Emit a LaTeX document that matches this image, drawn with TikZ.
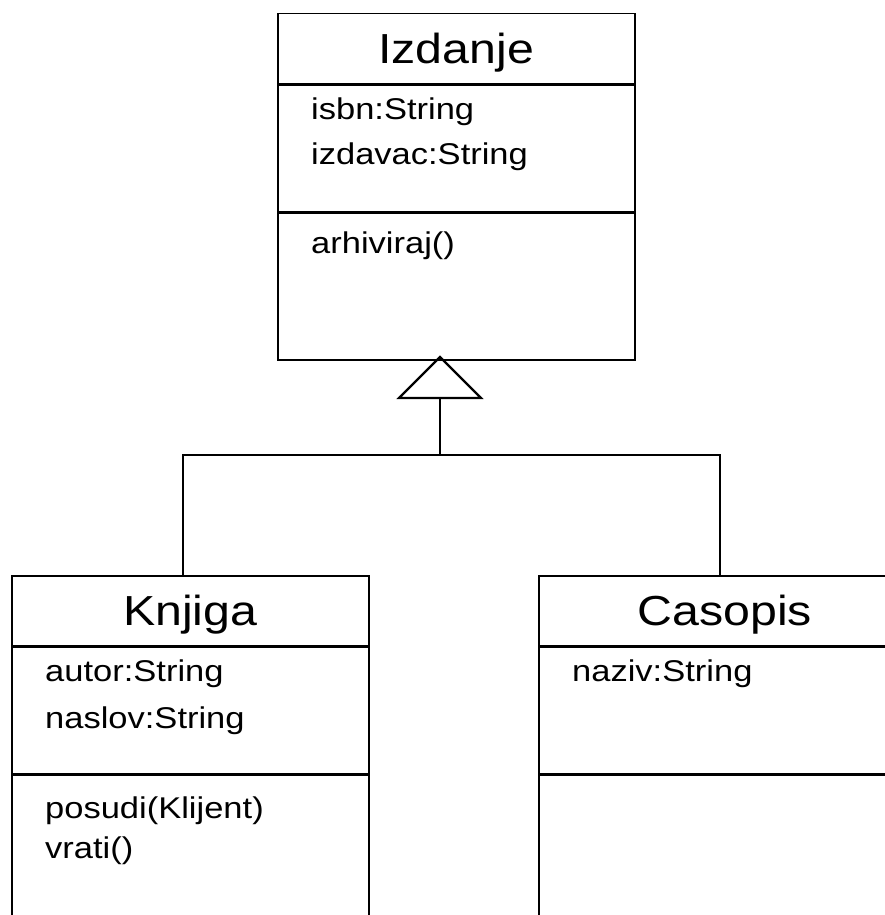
\documentclass[tikz,border=0pt]{standalone}
\usepackage{fontspec}
\setmainfont{Liberation Sans}[FakeStretch=1.15]
\usetikzlibrary{calc}

\begin{document}
\begin{tikzpicture}[x = 1pt, y = -1pt]
\tikzstyle{partStyle}=[draw, line width = 1.5pt, inner sep = 0pt, anchor = north west]
\tikzstyle{titleStyle}=[partStyle, minimum height = 70, text height = 30pt, text depth = 0pt, font = \fontsize{42}{46}\selectfont]
\tikzstyle{attrStyle}=[partStyle, minimum height = 126]
\tikzstyle{methStyle}=[partStyle, minimum height = 147]
\tikzstyle{memberStyle}=[inner sep = 0pt, anchor = base west, font = \fontsize{30}{36}\selectfont]
\tikzstyle{lineStyle}=[line width = 1.5pt]
\useasboundingbox (0,0) rectangle (885,915);
\clip (0,0) rectangle (885,915);
\node[titleStyle, minimum width = 357] (izdTitle) at (277,13) {Izdanje};
\node[attrStyle, minimum width = 357] (izdAttr) at (izdTitle.south west) {};
\node[methStyle, minimum width = 357] (izdMeth) at (izdAttr.south west) {};
\node[memberStyle] (izdIsbn) at ($(izdAttr.north west)+(34,35)$) {isbn:String};
\node[memberStyle] (izdIzdavac) at ($(izdAttr.north west)+(34,80)$) {izdavac:String};
\node[memberStyle] (izdArhiviraj) at ($(izdMeth.north west)+(34,41)$) {arhiviraj()};
\node[titleStyle, minimum width = 357] (knjTitle) at (11,575) {Knjiga};
\node[attrStyle, minimum width = 357] (knjAttr) at (knjTitle.south west) {};
\node[methStyle, minimum width = 357] (knjMeth) at (knjAttr.south west) {};
\node[memberStyle] (knjAutor) at ($(knjAttr.north west)+(34,35)$) {autor:String};
\node[memberStyle] (knjNaslov) at ($(knjAttr.north west)+(34,82)$) {naslov:String};
\node[memberStyle] (knjPosudi) at ($(knjMeth.north west)+(34,44)$) {posudi(Klijent)};
\node[memberStyle] (knjVrati) at ($(knjMeth.north west)+(34,84)$) {vrati()};
\node[titleStyle, minimum width = 372] (casTitle) at (538,575) {Casopis};
\node[attrStyle, minimum width = 372] (casAttr) at (casTitle.south west) {};
\node[methStyle, minimum width = 372] (casMeth) at (casAttr.south west) {};
\node[memberStyle] (casNaziv) at ($(casAttr.north west)+(34,35)$) {naziv:String};
\coordinate (inhTip) at (440,357);
\coordinate (inhBase) at (440,398);
\coordinate (inhJoint) at (440,455);
\coordinate (knjTop) at (183,575);
\coordinate (casTop) at (720,575);
\draw[line width = 2.2pt, line join = miter] (inhTip) -- ($(inhBase)+(-41,0)$) -- ($(inhBase)+(41,0)$) -- cycle;
\draw[lineStyle] (inhBase) -- (inhJoint);
\draw[lineStyle] (knjTop) |- (inhJoint) -| (casTop);
\end{tikzpicture}
\end{document}
